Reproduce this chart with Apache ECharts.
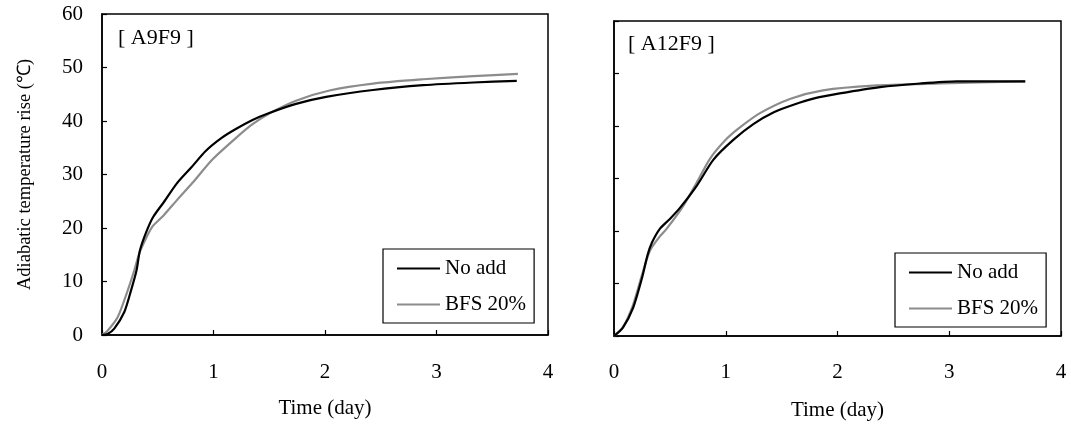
<!DOCTYPE html>
<html>
<head>
<meta charset="utf-8">
<script src="https://cdn.jsdelivr.net/npm/echarts@6/dist/echarts.min.js"></script>
<style>
html,body{margin:0;padding:0;background:#fff;}
#chart{width:1071px;height:426px;}
</style>
</head>
<body>
<div id="chart"></div>
<script>
// ---- data ----
const panelTitles = ['[ A9F9 ]', '[ A12F9 ]'];
const seriesNames = ['No add', 'BFS 20%'];
const xTickLabels = ['0', '1', '2', '3', '4'];
const yTickLabels = ['0', '10', '20', '30', '40', '50', '60'];

// A9F9 - No add
const a9NoAddDays = [0, 0.05, 0.11, 0.20, 0.26, 0.31, 0.34, 0.40, 0.46, 0.56, 0.67, 0.80, 0.93, 1.07, 1.20, 1.35, 1.50, 1.74, 2.01, 2.43, 2.88, 3.33, 3.72];
const a9NoAddTemp = [0, 0.2, 1.2, 4.3, 8.3, 12.1, 15.8, 19.4, 22.1, 25.0, 28.3, 31.3, 34.4, 36.8, 38.5, 40.2, 41.5, 43.2, 44.5, 45.8, 46.7, 47.2, 47.5];
// A9F9 - BFS 20%
const a9BfsDays = [0, 0.05, 0.14, 0.22, 0.29, 0.33, 0.37, 0.45, 0.55, 0.68, 0.81, 0.99, 1.20, 1.35, 1.50, 1.74, 2.04, 2.43, 2.88, 3.33, 3.73];
const a9BfsTemp = [0, 0.8, 3.3, 7.7, 12.1, 15.0, 17.0, 20.2, 22.3, 25.4, 28.4, 32.8, 36.8, 39.4, 41.4, 43.8, 45.7, 47.0, 47.8, 48.4, 48.8];
// A12F9 - No add
const a12NoAddDays = [0, 0.08, 0.17, 0.25, 0.30, 0.34, 0.41, 0.50, 0.59, 0.74, 0.89, 1.07, 1.25, 1.43, 1.60, 1.80, 2.02, 2.38, 2.74, 3.07, 3.68];
const a12NoAddTemp = [0, 1.6, 5.3, 11.0, 15.4, 17.8, 20.4, 22.3, 24.4, 28.6, 33.6, 37.4, 40.4, 42.6, 44.0, 45.3, 46.2, 47.4, 48.1, 48.5, 48.5];
// A12F9 - BFS 20%
const a12BfsDays = [0, 0.08, 0.17, 0.25, 0.32, 0.40, 0.47, 0.62, 0.74, 0.86, 1.01, 1.13, 1.31, 1.58, 1.87, 2.32, 2.92, 3.68];
const a12BfsTemp = [0, 1.7, 5.9, 11.6, 16.2, 18.7, 20.4, 24.8, 29.2, 33.8, 37.6, 39.8, 42.5, 45.2, 46.8, 47.7, 48.1, 48.5];

function pairs(xs, ys) { return xs.map((x, i) => [x, ys[i]]); }

const FONT = '"Liberation Serif", "Times New Roman", serif';
const chart = echarts.init(document.getElementById('chart'), null, {renderer: 'canvas'});

function xAxisCfg(gridIndex, labelMargin, nameGap) {
  return {
    type: 'value', gridIndex: gridIndex, min: 0, max: 4, interval: 1,
    name: 'Time (day)', nameLocation: 'middle', nameGap: nameGap,
    nameTextStyle: {fontFamily: FONT, fontSize: 21, color: '#000'},
    axisLine: {show: true, onZero: false, lineStyle: {color: '#000', width: 1.5}},
    axisTick: {show: true, inside: true, length: 5, lineStyle: {color: '#000', width: 1.2}},
    axisLabel: {show: true, margin: labelMargin, fontFamily: FONT, fontSize: 21, color: '#000',
      formatter: v => xTickLabels[Math.round(v)]},
    splitLine: {show: false}
  };
}
function yAxisCfg(gridIndex, showLabels) {
  return {
    type: 'value', gridIndex: gridIndex, min: 0, max: 60, interval: 10,
    name: showLabels ? 'Adiabatic temperature rise (℃)' : '',
    nameLocation: 'middle', nameGap: 67,
    nameTextStyle: {fontFamily: FONT, fontSize: 18.5, color: '#000'},
    axisLine: {show: true, lineStyle: {color: '#000', width: 1.5}},
    axisTick: {show: true, inside: true, length: 5, lineStyle: {color: '#000', width: 1.2}},
    axisLabel: {show: showLabels, margin: 19, fontFamily: FONT, fontSize: 21, color: '#000',
      formatter: v => yTickLabels[Math.round(v / 10)]},
    splitLine: {show: false}
  };
}
function lineSeries(name, xi, data, color) {
  return {
    name: name, type: 'line', xAxisIndex: xi, yAxisIndex: xi, data: data,
    showSymbol: false, smooth: 0.25, lineStyle: {color: color, width: 2.2}, itemStyle: {color: color},
    z: name === seriesNames[0] ? 3 : 2
  };
}
function legendCfg(left, top) {
  return {
    orient: 'vertical', left: left, top: top,
    data: seriesNames, icon: 'rect', itemWidth: 43, itemHeight: 2, itemGap: 15,
    borderColor: '#000', borderWidth: 1.2, padding: [9, 8, 8, 14],
    textStyle: {fontFamily: FONT, fontSize: 21, color: '#000'}, selectedMode: false
  };
}

chart.setOption({
  backgroundColor: '#fff',
  animation: false,
  title: [
    {text: panelTitles[0], left: 118, top: 27, textStyle: {fontFamily: FONT, fontSize: 22, fontWeight: 'normal', color: '#000'}, padding: 0},
    {text: panelTitles[1], left: 628, top: 33, textStyle: {fontFamily: FONT, fontSize: 22, fontWeight: 'normal', color: '#000'}, padding: 0}
  ],
  grid: [
    {left: 102, top: 14, width: 446, height: 321, show: true, borderColor: '#000', borderWidth: 1.5, backgroundColor: 'transparent'},
    {left: 614, top: 21, width: 447, height: 317, show: true, borderColor: '#000', borderWidth: 1.5, backgroundColor: 'transparent'}
  ],
  legend: [legendCfg(383, 249), legendCfg(895, 253)],
  xAxis: [xAxisCfg(0, 27, 63), xAxisCfg(1, 26, 64)],
  yAxis: [yAxisCfg(0, true), yAxisCfg(1, false)],
  series: [
    lineSeries(seriesNames[1], 0, pairs(a9BfsDays, a9BfsTemp), '#8c8c8c'),
    lineSeries(seriesNames[0], 0, pairs(a9NoAddDays, a9NoAddTemp), '#000'),
    lineSeries(seriesNames[1], 1, pairs(a12BfsDays, a12BfsTemp), '#8c8c8c'),
    lineSeries(seriesNames[0], 1, pairs(a12NoAddDays, a12NoAddTemp), '#000')
  ]
});
</script>
</body>
</html>
